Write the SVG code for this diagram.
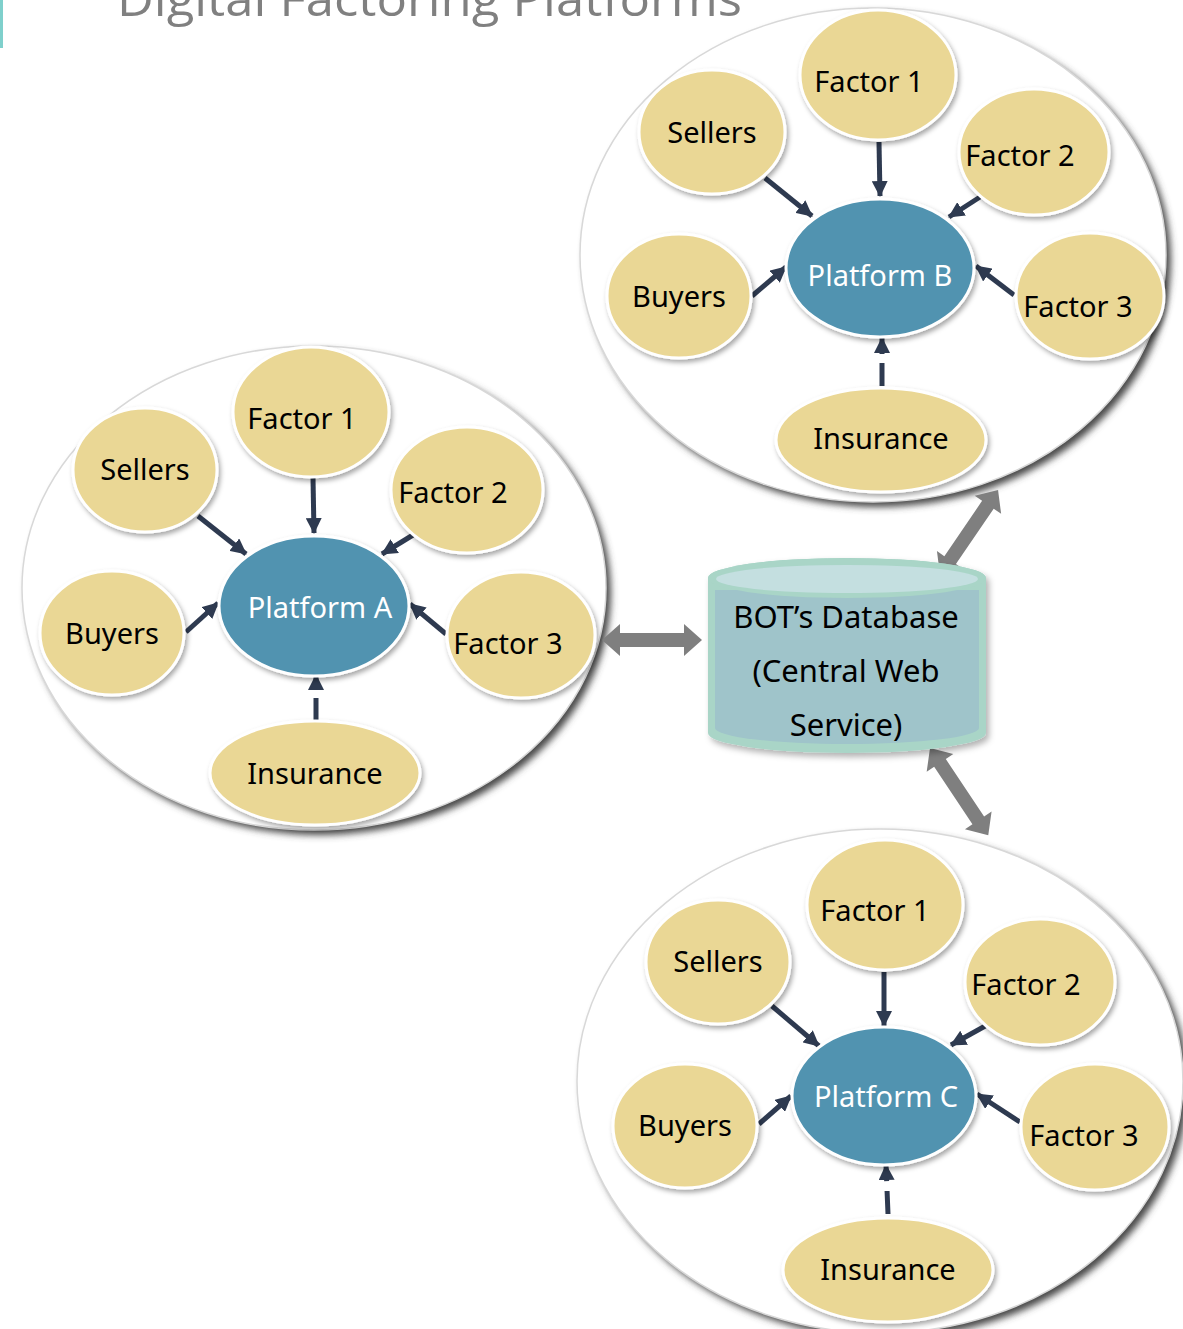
<svg xmlns="http://www.w3.org/2000/svg" width="1183" height="1329" viewBox="0 0 1183 1329">
<style>
.lbl{font-family:"Noto Sans","Open Sans",sans-serif;font-size:29px;fill:#000;text-anchor:middle}
.plat{font-family:"Noto Sans","Open Sans",sans-serif;font-size:29px;fill:#fff;text-anchor:middle}
.db{font-family:"Noto Sans","Open Sans",sans-serif;font-size:31px;fill:#000;text-anchor:middle}
.node{fill:#ead795;stroke:#fff;stroke-width:3;filter:url(#sh)}
.pf{fill:#5193b0;stroke:#fff;stroke-width:3;filter:url(#sh)}
.big{fill:#fff;stroke:#d8d8d8;stroke-width:1.5}
.bigsh{fill:#4a4a4a;filter:url(#bsh)}
.ar{stroke:#2e3a50;stroke-width:5;fill:none;marker-end:url(#ah)}
.ga{fill:#7f7f7f}
</style>
<defs>
<filter id="sh" x="-20%" y="-20%" width="140%" height="140%"><feDropShadow dx="2" dy="3" stdDeviation="2.5" flood-color="#000" flood-opacity="0.35"/></filter>
<filter id="bsh" x="-10%" y="-10%" width="120%" height="120%"><feGaussianBlur stdDeviation="3.5"/></filter>
<filter id="dsh" x="-10%" y="-10%" width="120%" height="130%"><feDropShadow dx="3" dy="4" stdDeviation="3" flood-color="#000" flood-opacity="0.3"/></filter>
<marker id="ah" markerUnits="userSpaceOnUse" markerWidth="16" markerHeight="16" refX="15" refY="8" orient="auto"><path d="M0,0 L16,8 L0,16 z" fill="#2e3a50"/></marker>
</defs>
<rect x="0" y="0" width="1183" height="1329" fill="#fff"/>
<rect x="0" y="0" width="3" height="48" fill="#7fd0cc"/>
<text x="117" y="16" font-family="'Open Sans','Noto Sans',sans-serif" font-size="48" fill="#808080" textLength="625" lengthAdjust="spacingAndGlyphs">Digital Factoring Platforms</text>

<g id="clusterA">
<ellipse class="bigsh" cx="319" cy="593" rx="292" ry="242"/>
<ellipse class="big" cx="314" cy="588" rx="292" ry="242"/>
</g>
<g id="clusterB">
<ellipse class="bigsh" cx="878" cy="260" rx="293" ry="247"/>
<ellipse class="big" cx="873" cy="255" rx="293" ry="247"/>
</g>
<g id="clusterC">
<ellipse class="bigsh" cx="885" cy="1086" rx="303" ry="252"/>
<ellipse class="big" cx="880" cy="1081" rx="303" ry="252"/>
</g>

<g id="connectors">
<line class="ar" x1="313" y1="478" x2="314" y2="533"/>
<line class="ar" x1="198" y1="516" x2="246" y2="554"/>
<line class="ar" x1="413" y1="535" x2="382" y2="554"/>
<line class="ar" x1="186" y1="632" x2="218" y2="603"/>
<line class="ar" x1="446" y1="634" x2="410" y2="604"/>
<line class="ar" x1="316" y1="720" x2="316" y2="675" stroke-dasharray="22 9 30"/>

<line class="ar" x1="879" y1="142" x2="880" y2="196"/>
<line class="ar" x1="765" y1="178" x2="812" y2="216"/>
<line class="ar" x1="980" y1="197" x2="949" y2="217"/>
<line class="ar" x1="752" y1="296" x2="786" y2="267"/>
<line class="ar" x1="1014" y1="295" x2="976" y2="266"/>
<line class="ar" x1="882" y1="386" x2="882" y2="338" stroke-dasharray="23 9 30"/>

<line class="ar" x1="884" y1="972" x2="884" y2="1026"/>
<line class="ar" x1="772" y1="1006" x2="819" y2="1046"/>
<line class="ar" x1="987" y1="1025" x2="951" y2="1045"/>
<line class="ar" x1="759" y1="1124" x2="791" y2="1096"/>
<line class="ar" x1="1020" y1="1122" x2="977" y2="1094"/>
<line class="ar" x1="888" y1="1214" x2="886" y2="1165" stroke-dasharray="23 10 30"/>

<polygon class="ga" points="602,640 620,624 620,633 684,633 684,624 702,640 684,656 684,647 620,647 620,656"/>
<g transform="translate(940,575) rotate(-55.7)"><polygon class="ga" points="0,0 18,-16 18,-7 85,-7 85,-16 103,0 85,16 85,7 18,7 18,16"/></g>
<g transform="translate(930,748) rotate(56.3)"><polygon class="ga" points="0,0 18,-16 18,-7 87,-7 87,-16 105,0 87,16 87,7 18,7 18,16"/></g>
</g>

<g id="A-factor1"><ellipse class="node" cx="311" cy="412" rx="78" ry="65"/><text class="lbl" x="302" y="429">Factor 1</text></g>
<g id="A-sellers"><ellipse class="node" cx="145" cy="470" rx="72" ry="62"/><text class="lbl" x="145" y="480">Sellers</text></g>
<g id="A-factor2"><ellipse class="node" cx="467" cy="490" rx="76" ry="63"/><text class="lbl" x="453" y="503">Factor 2</text></g>
<g id="A-buyers"><ellipse class="node" cx="112" cy="633" rx="72" ry="62"/><text class="lbl" x="112" y="644">Buyers</text></g>
<g id="A-platform"><ellipse class="pf" cx="314" cy="606" rx="95" ry="70"/><text class="plat" x="320" y="618">Platform A</text></g>
<g id="A-factor3"><ellipse class="node" cx="521" cy="635" rx="74" ry="63"/><text class="lbl" x="508" y="654">Factor 3</text></g>
<g id="A-insurance"><ellipse class="node" cx="315" cy="773" rx="105" ry="52"/><text class="lbl" x="315" y="784">Insurance</text></g>

<g id="B-factor1"><ellipse class="node" cx="878" cy="75" rx="78" ry="65"/><text class="lbl" x="869" y="92">Factor 1</text></g>
<g id="B-sellers"><ellipse class="node" cx="712" cy="132" rx="73" ry="62"/><text class="lbl" x="712" y="143">Sellers</text></g>
<g id="B-factor2"><ellipse class="node" cx="1034" cy="152" rx="75" ry="63"/><text class="lbl" x="1020" y="166">Factor 2</text></g>
<g id="B-buyers"><ellipse class="node" cx="679" cy="296" rx="72" ry="62"/><text class="lbl" x="679" y="307">Buyers</text></g>
<g id="B-platform"><ellipse class="pf" cx="880" cy="268" rx="94" ry="69"/><text class="plat" x="880" y="286">Platform B</text></g>
<g id="B-factor3"><ellipse class="node" cx="1090" cy="296" rx="74" ry="63"/><text class="lbl" x="1078" y="317">Factor 3</text></g>
<g id="B-insurance"><ellipse class="node" cx="881" cy="440" rx="105" ry="52"/><text class="lbl" x="881" y="449">Insurance</text></g>

<g id="C-factor1"><ellipse class="node" cx="885" cy="905" rx="78" ry="65"/><text class="lbl" x="875" y="921">Factor 1</text></g>
<g id="C-sellers"><ellipse class="node" cx="718" cy="962" rx="72" ry="62"/><text class="lbl" x="718" y="972">Sellers</text></g>
<g id="C-factor2"><ellipse class="node" cx="1040" cy="982" rx="75" ry="63"/><text class="lbl" x="1026" y="995">Factor 2</text></g>
<g id="C-buyers"><ellipse class="node" cx="685" cy="1126" rx="72" ry="62"/><text class="lbl" x="685" y="1136">Buyers</text></g>
<g id="C-platform"><ellipse class="pf" cx="884" cy="1096" rx="92" ry="69"/><text class="plat" x="886" y="1107">Platform C</text></g>
<g id="C-factor3"><ellipse class="node" cx="1095" cy="1127" rx="74" ry="63"/><text class="lbl" x="1084" y="1146">Factor 3</text></g>
<g id="C-insurance"><ellipse class="node" cx="888" cy="1270" rx="105" ry="52"/><text class="lbl" x="888" y="1280">Insurance</text></g>

<g id="database">
<g filter="url(#dsh)">
<path d="M708,578 L708,733 A139,20 0 0 0 986,733 L986,578 A139,20 0 0 0 708,578 z" fill="#a9d5c7"/>
<path d="M715,590 L715,728 A132,16 0 0 0 979,728 L979,590 z" fill="#9fc4ca"/>
<ellipse cx="847" cy="578" rx="139" ry="20" fill="#a9d5c7"/>
<ellipse cx="847" cy="579" rx="131" ry="14" fill="#c4dfe0"/>
</g>
<text class="db" x="846" y="628">BOT’s Database</text>
<text class="db" x="846" y="682">(Central Web</text>
<text class="db" x="846" y="736">Service)</text>
</g>
</svg>
